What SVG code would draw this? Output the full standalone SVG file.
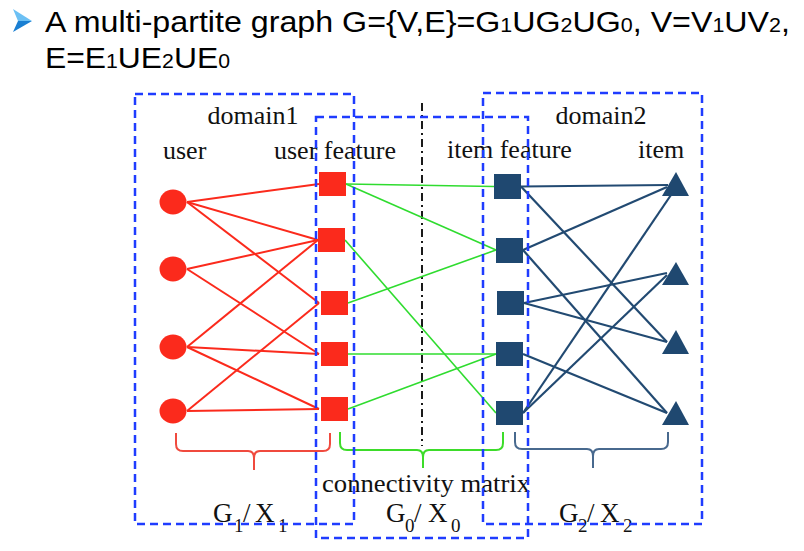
<svg xmlns="http://www.w3.org/2000/svg" width="804" height="551" viewBox="0 0 804 551">
<style>
.title{font-family:"Liberation Sans",Arial,sans-serif;font-size:30px;fill:#000}
.sub{font-size:20px}
.lbl{font-family:"Liberation Serif","Times New Roman",serif;font-size:26px;fill:#111}
.big{font-size:27px}
.lsub{font-size:19px}
.box{fill:none;stroke:#1f3cff;stroke-width:2.5;stroke-dasharray:8 5}
.red{stroke:#fb2a1c;stroke-width:2;fill:none}
.grn{stroke:#2fdc2f;stroke-width:1.6;fill:none}
.nav{stroke:#224a72;stroke-width:2.2;fill:none}
.rn{fill:#fb2a1c}
.nn{fill:#1f4870}
</style>
<rect width="804" height="551" fill="#fff"/>

<g id="title">
  <polygon points="13,9 32,21 18,21" fill="#6cc0f4"/>
  <polygon points="18,21 32,21 13,32" fill="#1a7fd2"/>
  <text class="title" x="45" y="32" textLength="745" lengthAdjust="spacingAndGlyphs">A multi-partite graph G={V,E}=G<tspan class="sub">1</tspan>UG<tspan class="sub">2</tspan>UG<tspan class="sub">0</tspan>, V=V<tspan class="sub">1</tspan>UV<tspan class="sub">2</tspan>,</text>
  <text class="title" x="45" y="68" textLength="185" lengthAdjust="spacingAndGlyphs">E=E<tspan class="sub">1</tspan>UE<tspan class="sub">2</tspan>UE<tspan class="sub">0</tspan></text>
</g>

<g id="separator">
  <line x1="422" y1="103" x2="422" y2="446" stroke="#1a1a1a" stroke-width="2" stroke-dasharray="8 4 2 4"/>
</g>

<g id="connectors">
  <g id="E1">
    <line class="red" x1="187" y1="202" x2="319" y2="184"/>
    <line class="red" x1="187" y1="202" x2="318" y2="240"/>
    <line class="red" x1="187" y1="202" x2="319" y2="303"/>
    <line class="red" x1="187" y1="269" x2="318" y2="240"/>
    <line class="red" x1="187" y1="269" x2="319" y2="354"/>
    <line class="red" x1="187" y1="347" x2="318" y2="240"/>
    <line class="red" x1="187" y1="347" x2="319" y2="354"/>
    <line class="red" x1="187" y1="347" x2="319" y2="409"/>
    <line class="red" x1="187" y1="411" x2="319" y2="303"/>
    <line class="red" x1="187" y1="411" x2="319" y2="409"/>
  </g>
  <g id="E0">
    <line class="grn" x1="346" y1="184" x2="494" y2="186.5"/>
    <line class="grn" x1="346" y1="184" x2="496" y2="250"/>
    <line class="grn" x1="345" y1="240" x2="496" y2="413"/>
    <line class="grn" x1="348" y1="303" x2="496" y2="250"/>
    <line class="grn" x1="348" y1="354" x2="496" y2="354"/>
    <line class="grn" x1="348" y1="409" x2="496" y2="354"/>
  </g>
  <g id="E2">
    <line class="nav" x1="521" y1="186.5" x2="668" y2="185"/>
    <line class="nav" x1="521" y1="186.5" x2="667" y2="342"/>
    <line class="nav" x1="523" y1="250" x2="667" y2="187"/>
    <line class="nav" x1="523" y1="250" x2="667" y2="413"/>
    <line class="nav" x1="524" y1="303" x2="667" y2="273"/>
    <line class="nav" x1="524" y1="303" x2="667" y2="342"/>
    <line class="nav" x1="523" y1="354" x2="667" y2="413"/>
    <line class="nav" x1="523" y1="413" x2="673" y2="192"/>
    <line class="nav" x1="523" y1="413" x2="667" y2="275"/>
  </g>
</g>

<g id="users">
  <g id="user1"><ellipse class="rn" cx="173" cy="202" rx="13.5" ry="12.5"/></g>
  <g id="user2"><ellipse class="rn" cx="173" cy="269" rx="13.5" ry="12.5"/></g>
  <g id="user3"><ellipse class="rn" cx="173" cy="347" rx="13.5" ry="12.5"/></g>
  <g id="user4"><ellipse class="rn" cx="173" cy="411" rx="13.5" ry="12.5"/></g>
</g>
<g id="user-features">
  <g id="uf1"><rect class="rn" x="319" y="172" width="27" height="24"/></g>
  <g id="uf2"><rect class="rn" x="318" y="228" width="27" height="24"/></g>
  <g id="uf3"><rect class="rn" x="321" y="291" width="27" height="24"/></g>
  <g id="uf4"><rect class="rn" x="321" y="342" width="27" height="24"/></g>
  <g id="uf5"><rect class="rn" x="321" y="397" width="27" height="24"/></g>
</g>
<g id="item-features">
  <g id="if1"><rect class="nn" x="494" y="174" width="27" height="25"/></g>
  <g id="if2"><rect class="nn" x="496" y="238" width="27" height="25"/></g>
  <g id="if3"><rect class="nn" x="497" y="291" width="27" height="24"/></g>
  <g id="if4"><rect class="nn" x="496" y="342" width="27" height="24"/></g>
  <g id="if5"><rect class="nn" x="496" y="401" width="27" height="24"/></g>
</g>
<g id="items">
  <g id="item1"><polygon class="nn" points="676,172 689,196 662,196"/></g>
  <g id="item2"><polygon class="nn" points="676,262 689,285 662,285"/></g>
  <g id="item3"><polygon class="nn" points="676,330 689,354 662,354"/></g>
  <g id="item4"><polygon class="nn" points="676,401 689,425 662,425"/></g>
</g>

<g id="braces" fill="none" stroke-width="2">
  <path stroke="#f04a3e" d="M176,433 L176,444 Q176,451 183,451 L248,451 Q254,451 254,458 L254,470 M254,458 Q254,451 260,451 L323,451 Q330,451 330,444 L330,433"/>
  <path stroke="#3ddc2a" d="M340,432 L340,443 Q340,450 347,450 L417,450 Q423,450 423,457 L423,468 M423,457 Q423,450 429,450 L496,450 Q503,450 503,443 L503,432"/>
  <path stroke="#48698e" d="M515,432 L515,442 Q515,449 522,449 L587,449 Q593,449 593,456 L593,468 M593,456 Q593,449 599,449 L661,449 Q668,449 668,442 L668,432"/>
</g>

<g id="labels">
  <text class="lbl" x="253" y="124" text-anchor="middle">domain1</text>
  <text class="lbl" x="163" y="159">user</text>
  <text class="lbl" x="274" y="159">user feature</text>
  <text class="lbl" x="447" y="158">item feature</text>
  <text class="lbl" x="601" y="124" text-anchor="middle">domain2</text>
  <text class="lbl" x="638" y="158">item</text>
  <text class="lbl" x="322" y="492" textLength="208" lengthAdjust="spacingAndGlyphs">connectivity matrix</text>
  <text class="lbl big" y="522"><tspan x="213">G</tspan><tspan class="lsub" x="234" dy="10">1</tspan><tspan x="243" dy="-10">/</tspan><tspan x="255">X</tspan><tspan class="lsub" x="278" dy="10">1</tspan></text>
  <text class="lbl big" y="522"><tspan x="386">G</tspan><tspan class="lsub" x="405" dy="10">0</tspan><tspan x="414" dy="-10">/</tspan><tspan x="428">X</tspan><tspan class="lsub" x="451" dy="10">0</tspan></text>
  <text class="lbl big" y="522"><tspan x="559">G</tspan><tspan class="lsub" x="578" dy="10">2</tspan><tspan x="587" dy="-10">/</tspan><tspan x="600">X</tspan><tspan class="lsub" x="623" dy="10">2</tspan></text>
</g>

<g id="boxes">
  <rect id="domain1-box" class="box" x="135" y="94" width="219" height="430"/>
  <rect id="g0-box" class="box" x="316" y="117" width="212" height="421"/>
  <rect id="domain2-box" class="box" x="483" y="93" width="219" height="431"/>
</g>
</svg>
